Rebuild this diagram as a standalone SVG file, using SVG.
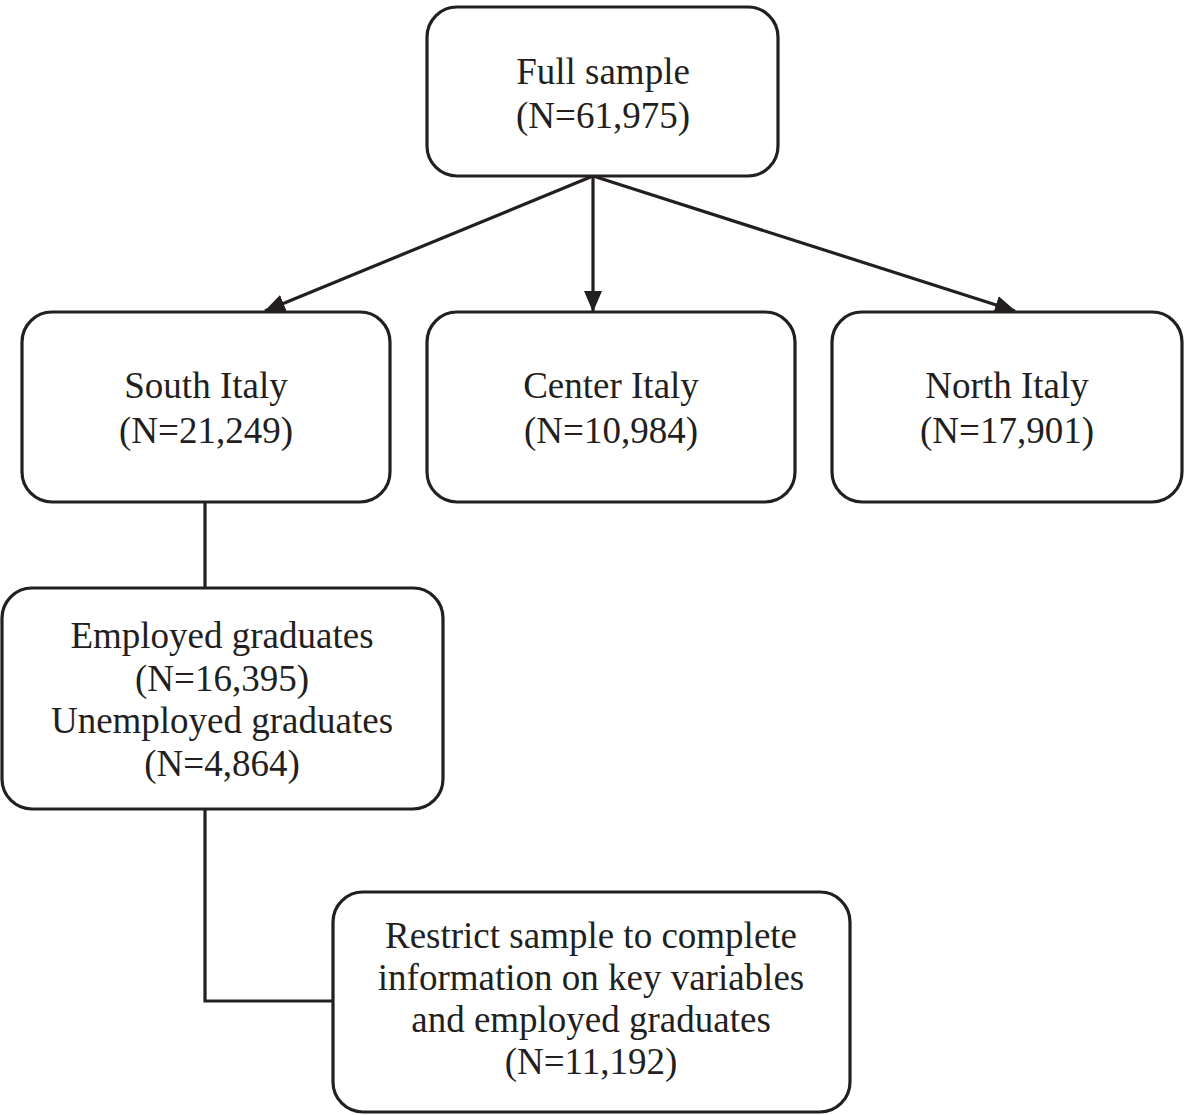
<svg xmlns="http://www.w3.org/2000/svg" width="1190" height="1115" viewBox="0 0 1190 1115">
<defs>
<style>
.box{fill:#fff;stroke:#231f20;stroke-width:3.2}
.t{font-family:"Liberation Serif","Times New Roman",serif;font-size:37px;fill:#231f20;text-anchor:middle}
.c{fill:none;stroke:#231f20;stroke-width:3.2}
</style>
<marker id="ah" markerUnits="userSpaceOnUse" markerWidth="22" markerHeight="22" viewBox="0 0 22 22" refX="20" refY="11" orient="auto">
<path d="M0,2 L21,11 L0,20 Z" fill="#231f20"/>
</marker>
</defs>
<rect width="1190" height="1115" fill="#fff"/>
<g id="connectors">
<line class="c" x1="593" y1="176" x2="265" y2="311" marker-end="url(#ah)"/>
<line class="c" x1="593" y1="176" x2="593" y2="311" marker-end="url(#ah)"/>
<line class="c" x1="593" y1="176" x2="1015" y2="311" marker-end="url(#ah)"/>
<line class="c" x1="205" y1="502" x2="205" y2="588"/>
<polyline class="c" points="205,809 205,1001 334,1001"/>
</g>
<g id="full">
<rect class="box" x="427" y="7" width="351" height="169" rx="30"/>
<text class="t" x="603" y="84">Full sample</text>
<text class="t" x="603" y="128">(N=61,975)</text>
</g>
<g id="south">
<rect class="box" x="22" y="312" width="368" height="190" rx="30"/>
<text class="t" x="206" y="398">South Italy</text>
<text class="t" x="206" y="443">(N=21,249)</text>
</g>
<g id="center">
<rect class="box" x="427" y="312" width="368" height="190" rx="30"/>
<text class="t" x="611" y="398">Center Italy</text>
<text class="t" x="611" y="443">(N=10,984)</text>
</g>
<g id="north">
<rect class="box" x="832" y="312" width="350" height="190" rx="30"/>
<text class="t" x="1007" y="398">North Italy</text>
<text class="t" x="1007" y="443">(N=17,901)</text>
</g>
<g id="employed">
<rect class="box" x="2" y="588" width="441" height="221" rx="30"/>
<text class="t" x="222" y="648">Employed graduates</text>
<text class="t" x="222" y="691">(N=16,395)</text>
<text class="t" x="222" y="733">Unemployed graduates</text>
<text class="t" x="222" y="776">(N=4,864)</text>
</g>
<g id="restrict">
<rect class="box" x="333" y="892" width="517" height="220" rx="30"/>
<text class="t" x="591" y="948">Restrict sample to complete</text>
<text class="t" x="591" y="990">information on key variables</text>
<text class="t" x="591" y="1032">and employed graduates</text>
<text class="t" x="591" y="1074">(N=11,192)</text>
</g>
</svg>
